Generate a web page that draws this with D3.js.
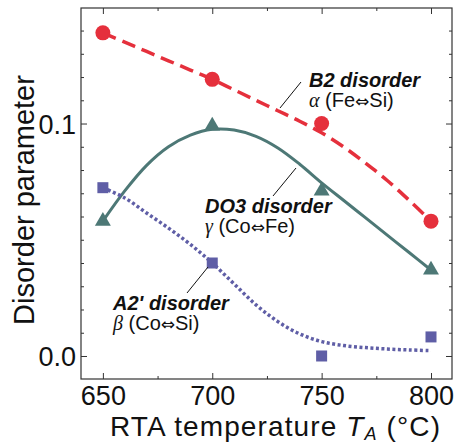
<!DOCTYPE html>
<html>
<head>
<meta charset="utf-8">
<script src="https://cdn.jsdelivr.net/npm/d3@7/dist/d3.min.js"></script>
<style>
  html, body { margin: 0; padding: 0; background: #fff; }
  svg { display: block; font-family: "Liberation Sans", Arial, sans-serif; }
  .tick-label { font-size: 27px; fill: #111; }
  .axis-title { font-size: 29px; fill: #111; }
  .x-title { font-size: 28px; }
  .note-title { font-size: 20px; font-weight: bold; font-style: italic; fill: #111; }
  .note-sub { font-size: 20px; fill: #111; }
  .greek { font-family: "Liberation Serif", "DejaVu Serif", serif; font-style: italic; }
  .arrow { font-family: "DejaVu Sans", sans-serif; font-size: 17px; }
</style>
</head>
<body>
<div class="chart"></div>
<script>
// measured temperatures (°C)
const temps = [650, 700, 750, 800];

// disorder parameters
const alphaB2 = [0.139, 0.119, 0.100, 0.058];
const gammaDO3 = [0.058, 0.099, 0.071, 0.037];
const betaA2 = [0.0724, 0.040, 0.000, 0.0082];

// guide-to-the-eye curves
const fitTemps = [650, 660, 670, 680, 690, 700, 710, 720, 730, 740, 750, 760, 770, 780, 790, 800];
const alphaFit = [0.139, 0.135, 0.131, 0.127, 0.123, 0.119, 0.1145, 0.110, 0.1055, 0.101, 0.096, 0.090, 0.083, 0.0755, 0.067, 0.058];
const gammaFit = [0.058, 0.071, 0.082, 0.090, 0.095, 0.0975, 0.0972, 0.0945, 0.0895, 0.0825, 0.0745, 0.067, 0.0595, 0.052, 0.0445, 0.037];
const betaFit = [0.0724, 0.068, 0.0615, 0.055, 0.048, 0.040, 0.031, 0.022, 0.0148, 0.0095, 0.0062, 0.0045, 0.0036, 0.003, 0.0026, 0.0023];

// tick labels
const xTicks = [650, 700, 750, 800];
const xMinor = [675, 725, 775];
const yTicks = [0.0, 0.1];
const yMinor = [0.01, 0.02, 0.03, 0.04, 0.05, 0.06, 0.07, 0.08, 0.09, 0.11, 0.12, 0.13, 0.14];

(function() {
  'use strict';

  let W = 458,
      H = 445,
      margin = { top: 8, right: 6, bottom: 66, left: 81 },
      colors = { alpha: '#e5303c', gamma: '#4d7876', beta: '#5f5ea6' },

      svg = d3.select('.chart')
        .append('svg')
        .attr('width', W)
        .attr('height', H),

      x = d3.scaleLinear()
        .domain([640, 809.6])
        .range([margin.left, W - margin.right]),

      y = d3.scaleLinear()
        .domain([-0.0099, 0.1497])
        .range([H - margin.bottom, margin.top]),

      line = (ys) => d3.line()
        .x((d, i) => x(fitTemps[i]))
        .y(d => y(d))
        .curve(d3.curveCatmullRom.alpha(0.5))(ys),

      /**
       * Frame with inward ticks on every side
       */
      drawAxes = () => {
        let x0 = x.range()[0], x1 = x.range()[1],
            y0 = y.range()[0], y1 = y.range()[1];

        let axes = [
          d3.axisBottom(x).tickValues(xTicks).tickSize(-6).tickFormat(d3.format('d')),
          d3.axisTop(x).tickValues(xTicks).tickSize(-6).tickFormat(''),
          d3.axisLeft(y).tickValues(yTicks).tickSize(-6).tickFormat(d3.format('.1f')),
          d3.axisRight(y).tickValues(yTicks).tickSize(-6).tickFormat('')
        ],
        minors = [
          d3.axisBottom(x).tickValues(xMinor).tickSize(-3).tickFormat(''),
          d3.axisTop(x).tickValues(xMinor).tickSize(-3).tickFormat(''),
          d3.axisLeft(y).tickValues(yMinor).tickSize(-3).tickFormat(''),
          d3.axisRight(y).tickValues(yMinor).tickSize(-3).tickFormat('')
        ],
        spots = [
          `translate(0,${y0})`, `translate(0,${y1})`,
          `translate(${x0},0)`, `translate(${x1},0)`
        ];

        axes.concat(minors).forEach((ax, i) => {
          let g = svg.append('g')
            .attr('transform', spots[i % 4])
            .call(ax);
          g.select('.domain').remove();
          g.selectAll('line').attr('stroke', '#333').attr('stroke-width', 1);
          g.selectAll('text')
            .attr('class', 'tick-label')
            .attr('font-size', null)
            .attr('font-family', null);
        });

        svg.selectAll('.tick-label').filter(function() { return this.textContent === '0.0' || this.textContent === '0.1'; })
          .attr('x', -5)
          .attr('dy', '0.36em');
        svg.selectAll('.tick-label').filter(function() { return +this.textContent >= 650; })
          .attr('y', 26)
          .attr('dy', 0);

        svg.append('rect')
          .attr('x', x0)
          .attr('y', y1)
          .attr('width', x1 - x0)
          .attr('height', y0 - y1)
          .attr('fill', 'none')
          .attr('stroke', '#333')
          .attr('stroke-width', 1.2);

        // axis titles
        let xt = svg.append('text')
          .attr('class', 'axis-title x-title')
          .attr('x', 275)
          .attr('y', 436)
          .attr('text-anchor', 'middle')
          .attr('textLength', 330);
        xt.append('tspan').text('RTA temperature ');
        xt.append('tspan').attr('font-style', 'italic').text('T');
        xt.append('tspan').attr('font-style', 'italic').attr('font-size', '18px').attr('dy', 4).text('A');
        xt.append('tspan').attr('dy', -4).text(' (°C)');

        svg.append('text')
          .attr('class', 'axis-title')
          .attr('transform', 'translate(34,200) rotate(-90)')
          .attr('text-anchor', 'middle')
          .text('Disorder parameter');
      },

      /**
       * Fitted curves
       */
      drawCurves = () => {
        svg.append('path')
          .attr('d', line(alphaFit))
          .attr('fill', 'none')
          .attr('stroke', colors.alpha)
          .attr('stroke-width', 3.5)
          .attr('stroke-dasharray', '14,7');

        svg.append('path')
          .attr('d', line(gammaFit))
          .attr('fill', 'none')
          .attr('stroke', colors.gamma)
          .attr('stroke-width', 3);

        svg.append('path')
          .attr('d', line(betaFit))
          .attr('fill', 'none')
          .attr('stroke', colors.beta)
          .attr('stroke-width', 3.5)
          .attr('stroke-dasharray', '3,2.5');
      },

      /**
       * Data markers
       */
      drawMarkers = () => {
        svg.selectAll('circle.alpha')
          .data(alphaB2)
          .enter()
          .append('circle')
            .attr('class', 'alpha')
            .attr('cx', (d, i) => x(temps[i]))
            .attr('cy', d => y(d))
            .attr('r', 7.5)
            .attr('fill', colors.alpha);

        svg.selectAll('path.gamma')
          .data(gammaDO3)
          .enter()
          .append('path')
            .attr('class', 'gamma')
            .attr('d', d3.symbol(d3.symbolTriangle, 110))
            .attr('transform', (d, i) => `translate(${x(temps[i])},${y(d)})`)
            .attr('fill', colors.gamma);

        svg.selectAll('rect.beta')
          .data(betaA2)
          .enter()
          .append('rect')
            .attr('class', 'beta')
            .attr('x', (d, i) => x(temps[i]) - 5.5)
            .attr('y', d => y(d) - 5.5)
            .attr('width', 11)
            .attr('height', 11)
            .attr('fill', colors.beta);
      },

      /**
       * Labels with leader lines
       */
      note = (lx, ly, lead, title, greek, pair) => {
        svg.append('line')
          .attr('x1', lead[0]).attr('y1', lead[1])
          .attr('x2', lead[2]).attr('y2', lead[3])
          .attr('stroke', '#111')
          .attr('stroke-width', 1);

        svg.append('text')
          .attr('class', 'note-title')
          .attr('x', lx)
          .attr('y', ly)
          .text(title);

        let sub = svg.append('text')
          .attr('class', 'note-sub')
          .attr('x', lx)
          .attr('y', ly + 20);
        sub.append('tspan').attr('class', 'greek').text(greek);
        sub.append('tspan').text(` (${pair[0]}`);
        sub.append('tspan').attr('class', 'arrow').text('⇔');
        sub.append('tspan').text(`${pair[1]})`);
      };

  drawAxes();
  drawCurves();
  drawMarkers();
  note(309, 87, [280, 108, 301, 82], 'B2 disorder', 'α', ['Fe', 'Si']);
  note(205, 213, [273, 196, 296, 168], 'DO3 disorder', 'γ', ['Co', 'Fe']);
  note(113, 310, [187, 293, 208, 267], "A2' disorder", 'β', ['Co', 'Si']);
})();
</script>
</body>
</html>
